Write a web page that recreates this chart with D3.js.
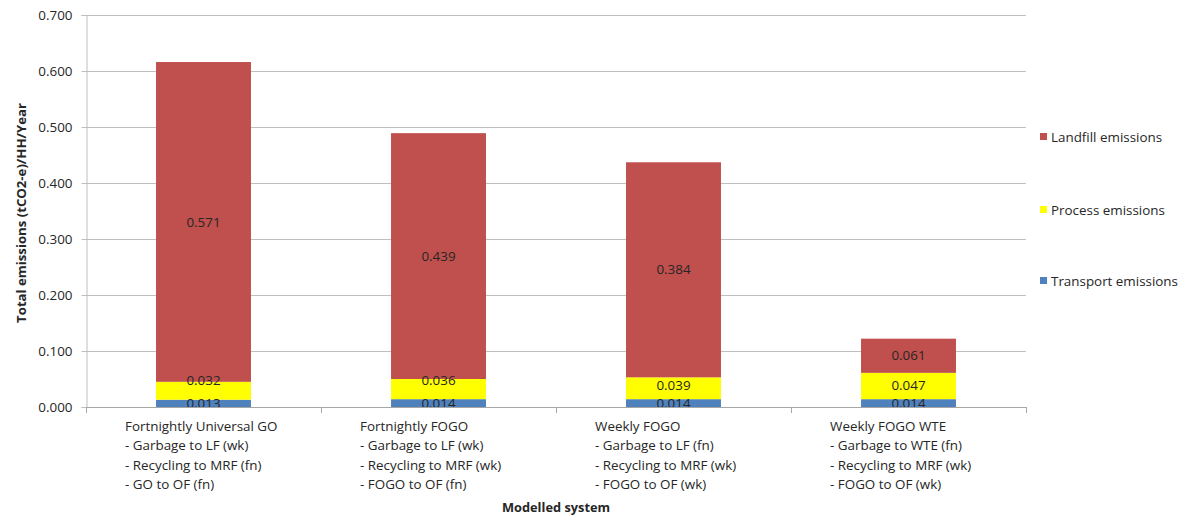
<!DOCTYPE html>
<html>
<head>
<meta charset="utf-8">
<script src="https://cdn.jsdelivr.net/npm/d3@7"></script>
<style>
  html, body { margin: 0; padding: 0; background: #fff; }
  svg { display: block; }
  text { font-family: "Open Sans", Lato, "Liberation Sans", sans-serif; fill: #262626; }
</style>
</head>
<body>
<svg id="chart" width="1182" height="517"></svg>
<script>
// Modelled waste collection systems (x-axis categories, one array of lines each)
const categories = [
  ["Fortnightly Universal GO", "- Garbage to LF (wk)", "- Recycling to MRF (fn)", "- GO to OF (fn)"],
  ["Fortnightly FOGO", "- Garbage to LF (wk)", "- Recycling to MRF (wk)", "- FOGO to OF (fn)"],
  ["Weekly FOGO", "- Garbage to LF (fn)", "- Recycling to MRF (wk)", "- FOGO to OF (wk)"],
  ["Weekly FOGO WTE", "- Garbage to WTE (fn)", "- Recycling to MRF (wk)", "- FOGO to OF (wk)"]
];

// Emissions per household per year (tCO2-e), stacked bottom to top
const transport = [0.013, 0.014, 0.014, 0.014];
const process   = [0.032, 0.036, 0.039, 0.047];
const landfill  = [0.571, 0.439, 0.384, 0.061];

const seriesNames = ["Transport emissions", "Process emissions", "Landfill emissions"];
const seriesColors = ["#4F81BD", "#FFFF00", "#C0504D"];
const yTicks = [0, 0.1, 0.2, 0.3, 0.4, 0.5, 0.6, 0.7];

const svg = d3.select("#chart");
const margin = { left: 86, right: 1026, top: 15, bottom: 407 };
const fontSize = 13.4;

const x = d3.scaleBand()
  .domain(d3.range(categories.length))
  .range([margin.left, margin.right])
  .paddingInner(0.596)
  .paddingOuter(0.298);

const y = d3.scaleLinear().domain([0, 0.7]).range([margin.bottom, margin.top]);

// Gridlines
svg.append("g")
  .selectAll("line")
  .data(yTicks.filter(d => d > 0))
  .join("line")
  .attr("x1", margin.left).attr("x2", margin.right)
  .attr("y1", d => Math.round(y(d)) + 0.5).attr("y2", d => Math.round(y(d)) + 0.5)
  .attr("stroke", "#BFBFBF").attr("stroke-width", 1);

// Y axis
const yAxis = svg.append("g")
  .attr("transform", `translate(${margin.left + 0.5},0)`)
  .call(d3.axisLeft(y).tickValues(yTicks).tickFormat(d3.format(".3f")).tickSize(5).tickPadding(9));
yAxis.select(".domain").attr("stroke", "#BFBFBF");
yAxis.selectAll(".tick line").attr("stroke", "#BFBFBF");
yAxis.selectAll(".tick text").attr("font-size", fontSize).attr("fill", "#262626")
  .style("font-family", "'Open Sans', Lato, sans-serif");

// Stacked data
const rows = categories.map((c, i) => ({ i, t: transport[i], p: process[i], l: landfill[i] }));
const stack = d3.stack().keys(["t", "p", "l"])(rows);

const layers = svg.append("g").selectAll("g")
  .data(stack)
  .join("g")
  .attr("fill", (d, k) => seriesColors[k]);

layers.selectAll("rect")
  .data(d => d)
  .join("rect")
  .attr("x", d => x(d.data.i))
  .attr("width", x.bandwidth())
  .attr("y", d => y(d[1]))
  .attr("height", d => y(d[0]) - y(d[1]));

// Segment value labels, centred in each segment; a label that would crowd
// the one beneath it is lifted clear of it
const labels = svg.append("g");
rows.forEach((r, i) => {
  let prevY = null;
  stack.forEach(layer => {
    const d = layer[i];
    let cy = (y(d[0]) + y(d[1])) / 2;
    if (prevY !== null) {
      const gap = prevY - cy;
      if (gap < 14.5) cy = prevY - 23;
      else if (gap < 18) cy = prevY - 18;
    }
    prevY = cy;
    labels.append("text")
      .attr("x", x(i) + x.bandwidth() / 2)
      .attr("y", cy)
      .attr("dy", "0.35em")
      .attr("text-anchor", "middle")
      .attr("font-size", fontSize)
      .attr("fill", "#1a1a1a")
      .text(d3.format(".3f")(d[1] - d[0]));
  });
});

// X axis line and category separators
const xAxisG = svg.append("g");
xAxisG.append("line")
  .attr("x1", margin.left).attr("x2", margin.right)
  .attr("y1", margin.bottom + 0.5).attr("y2", margin.bottom + 0.5)
  .attr("stroke", "#A6A6A6");
const step = (margin.right - margin.left) / categories.length;
xAxisG.selectAll(".sep")
  .data(d3.range(categories.length + 1))
  .join("line")
  .attr("x1", d => Math.round(margin.left + d * step) + 0.5)
  .attr("x2", d => Math.round(margin.left + d * step) + 0.5)
  .attr("y1", margin.bottom).attr("y2", margin.bottom + 6)
  .attr("stroke", "#A6A6A6");

// Category labels (multi-line, left aligned block)
categories.forEach((lines, i) => {
  const t = svg.append("text")
    .attr("font-size", fontSize)
    .attr("x", x(i) - 31);
  lines.forEach((ln, j) => {
    t.append("tspan")
      .attr("x", x(i) - 31)
      .attr("y", 431 + j * 19.3)
      .text(ln);
  });
});

// Axis titles
svg.append("text")
  .attr("x", (margin.left + margin.right) / 2)
  .attr("y", 512)
  .attr("text-anchor", "middle")
  .attr("font-size", 12.8)
  .attr("font-weight", "bold")
  .attr("fill", "#000")
  .text("Modelled system");

svg.append("text")
  .attr("transform", `translate(26,${(margin.top + margin.bottom) / 2 + 2}) rotate(-90)`)
  .attr("text-anchor", "middle")
  .attr("font-size", 13.2)
  .attr("font-weight", "bold")
  .attr("fill", "#000")
  .text("Total emissions (tCO2-e)/HH/Year");

// Legend (top to bottom: landfill, process, transport)
const legendY = [137, 210, 281];
const legendOrder = [2, 1, 0];
const legend = svg.append("g");
legendOrder.forEach((k, r) => {
  legend.append("rect")
    .attr("x", 1040).attr("y", legendY[r] - 4)
    .attr("width", 7).attr("height", 7)
    .attr("fill", seriesColors[k]);
  legend.append("text")
    .attr("x", 1051).attr("y", legendY[r])
    .attr("dy", "0.35em")
    .attr("font-size", fontSize)
    .text(seriesNames[k]);
});
</script>
</body>
</html>
